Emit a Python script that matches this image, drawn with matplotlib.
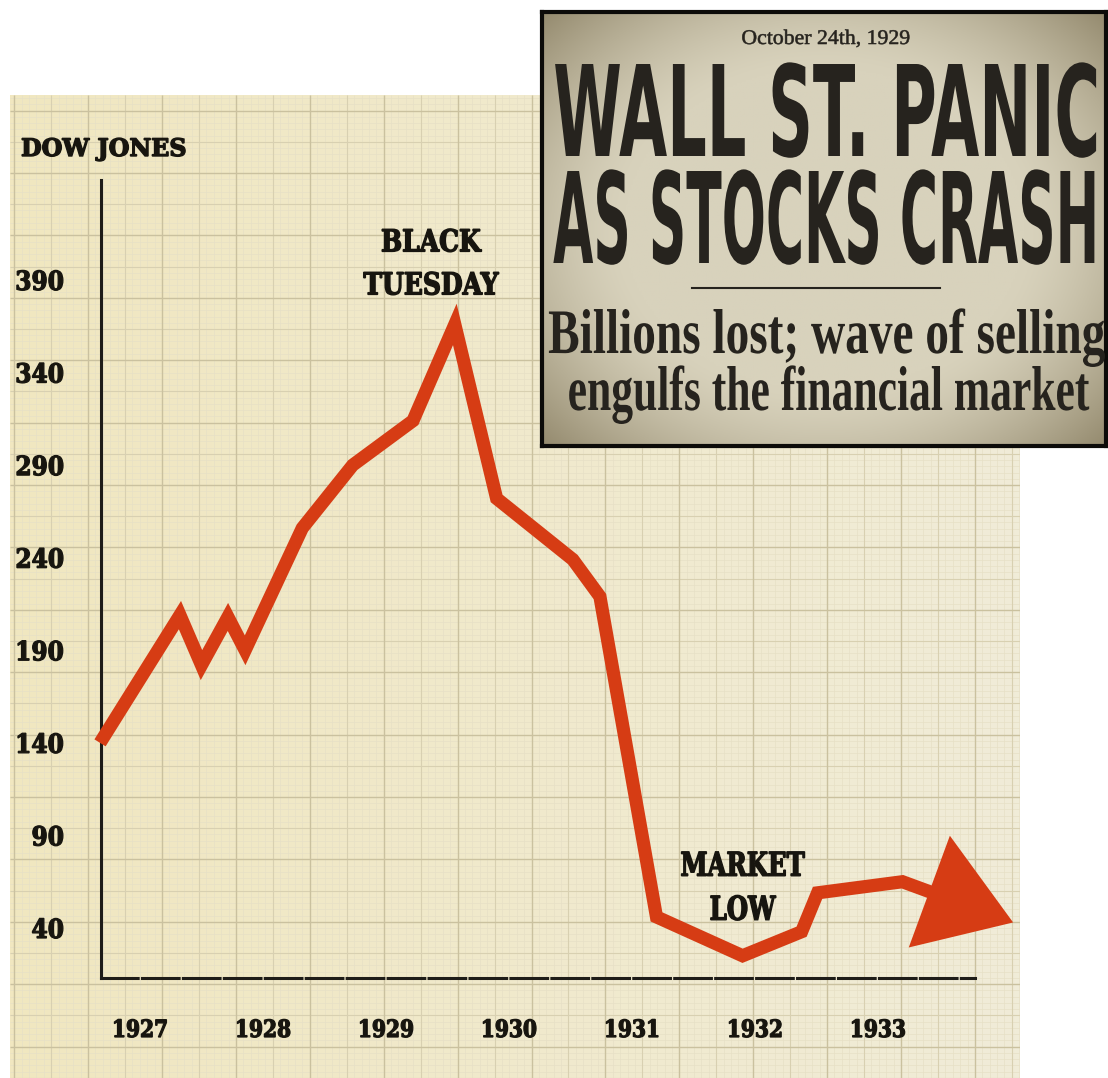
import numpy as np
import matplotlib
matplotlib.use("Agg")
import matplotlib.pyplot as plt
from matplotlib import patheffects
from matplotlib.font_manager import FontProperties
from matplotlib.patches import FancyArrowPatch, ArrowStyle
from matplotlib.path import Path
from matplotlib.textpath import TextPath
from matplotlib.transforms import Affine2D

W, H, DPI = 1108, 1078, 100

# Dow Jones trace (fractional year, index level)
dates = [1926.675, 1927.325, 1927.50, 1927.715, 1927.855, 1928.32, 1928.73,
         1929.22, 1929.56, 1929.90, 1930.52, 1930.74, 1931.20, 1931.90,
         1932.38, 1932.51, 1933.20]
dow = [140, 209, 182, 208, 190, 256, 290, 314, 366, 272, 239, 219,
       46, 25, 38, 59, 65]
arrow_date = 1934.10
arrow_dow = 43

y_ticks = [40, 90, 140, 190, 240, 290, 340, 390]
year_ticks = [1927, 1928, 1929, 1930, 1931, 1932, 1933]

RED = "#d63c14"
INK = "#17150f"
NEWS_INK = "#26231e"

SLAB = FontProperties(family=["DejaVu Serif Condensed", "DejaVu Serif"],
                      weight="bold", stretch="condensed")
NARROW = FontProperties(family=["Liberation Sans Narrow", "DejaVu Sans"],
                        weight="bold")
SERIF = FontProperties(family=["Liberation Serif", "DejaVu Serif"])
SERIF_B = FontProperties(family=["Liberation Serif", "DejaVu Serif"],
                         weight="bold")


class VStretch(patheffects.AbstractPathEffect):
    """Stretch text vertically about a pivot above the baseline (pixels),
    with an optional outline to make the glyphs heavier."""

    def __init__(self, sy, pivot=0.0, dy=0.0, bold=0.0):
        super().__init__()
        self.sy, self.pivot, self.dy, self.bold = sy, pivot, dy, bold

    def draw_path(self, renderer, gc, tpath, affine, rgbFace=None):
        x0, y0 = affine.transform((0, 0))
        yc = y0 + self.pivot
        stretch = (Affine2D().translate(0, -yc).scale(1, self.sy)
                   .translate(0, yc + self.dy))
        gc0 = renderer.new_gc()
        gc0.copy_properties(gc)
        if self.bold > 0 and rgbFace is not None:
            gc0.set_foreground(rgbFace)
            gc0.set_linewidth(self.bold)
            gc0.set_joinstyle("miter")
        renderer.draw_path(gc0, tpath, affine + stretch, rgbFace)
        gc0.restore()


def fit(s, prop, width_px, height_px, ref=None):
    # font size giving the wanted ink width, and stretch giving the ink height
    ink = TextPath((0, 0), s, size=10, prop=prop).get_extents()
    fs = 10 * width_px / (ink.width * DPI / 72)
    h = ink.height if ref is None else \
        TextPath((0, 0), ref, size=10, prop=prop).get_extents().height
    h0 = h * fs / 10 * DPI / 72
    return fs, height_px / h0, h0


fig = plt.figure(figsize=(W / DPI, H / DPI), dpi=DPI)
fig.patch.set_facecolor("white")

# ---- graph paper background (pixel coordinates) ----
bg = fig.add_axes([10 / W, 0, 1010 / W, (H - 95) / H], zorder=0)
bg.set_xlim(10, 1020)
bg.set_ylim(H, 95)
bg.axis("off")
t = np.linspace(0, 1, 200)
left_col = np.array([241, 231, 192]) / 255
right_col = np.array([240, 236, 216]) / 255
grad = left_col[None, :] * (1 - t[:, None]) + right_col[None, :] * t[:, None]
bg.imshow(np.repeat(grad[None, :, :], 2, axis=0), extent=(10, 1020, H, 95),
          aspect="auto", zorder=0)

gx = np.arange(14.2, 1020, 73.9)
gy = np.arange(110.6, H, 62.4)
bg.vlines(np.arange(14.2, 1020, 7.39), 95, H, color="#e7e0c6", lw=0.5, zorder=1)
bg.hlines(np.arange(48.2, H, 6.24), 10, 1020, color="#e7e0c6", lw=0.5, zorder=1)
bg.vlines(gx + 36.95, 95, H, color="#d8d0b1", lw=0.8, zorder=2)
bg.hlines(np.append(gy + 31.2, 79.4), 10, 1020, color="#d8d0b1", lw=0.8, zorder=2)
bg.vlines(gx, 95, H, color="#cac19f", lw=1.0, zorder=3)
bg.hlines(gy, 10, 1020, color="#cac19f", lw=1.0, zorder=3)

# ---- main chart ----
ax = fig.add_axes([101 / W, 1 - 978 / H, (975 - 101) / W, (978 - 180) / H],
                  zorder=1)
ax.set_facecolor("none")
ax.set_xlim(1926.683, 1933.79)
ax.set_ylim(13.0, 444.0)

for side in ("top", "right"):
    ax.spines[side].set_visible(False)
ax.spines["left"].set_linestyle((0, (9, 0.8)))
ax.spines["bottom"].set_linestyle((0, (12, 1.4)))
for side in ("left", "bottom"):
    ax.spines[side].set_linewidth(2.2)
    ax.spines[side].set_color("#1e1c18")

verts = np.column_stack([dates + [arrow_date], dow + [arrow_dow]])
codes = [Path.MOVETO] + [Path.LINETO] * (len(verts) - 1)
trace = FancyArrowPatch(
    path=Path(verts, codes),
    arrowstyle=ArrowStyle("-|>", head_length=51, head_width=34),
    mutation_scale=1, lw=9.5, color=RED, joinstyle="miter", capstyle="butt",
    transform=ax.transData, clip_on=False, zorder=3)
ax.add_patch(trace)

# tick labels
fs_y, sy_y, h_y = fit("390", SLAB, 46, 20)
ax.set_yticks(y_ticks, labels=[str(v) for v in y_ticks],
              fontproperties=SLAB, fontsize=fs_y, va="baseline", color=INK,
              path_effects=[VStretch(sy_y, pivot=h_y / 2, dy=-h_y / 2,
                                     bold=0.9)])
ax.tick_params(axis="y", length=0, pad=(101 - 64) * 72 / DPI)

fs_x, sy_x, h_x = fit("1927", SLAB, 52, 18)
ax.set_xticks(year_ticks, labels=[str(v) for v in year_ticks],
              fontproperties=SLAB, fontsize=fs_x, va="baseline", color=INK,
              path_effects=[VStretch(sy_x, pivot=h_x / 2, bold=0.9)])
ax.tick_params(axis="x", length=0, pad=(50 + h_x / 2) * 72 / DPI)

# annotations anchored to the peak and the low
ipk = int(np.argmax(dow))
ilo = int(np.argmin(dow))
fs_a, sy_a, _ = fit("TUESDAY", SLAB, 135, 23)
for s, dy in (("BLACK", 73), ("TUESDAY", 30)):
    ax.annotate(s, (dates[ipk], dow[ipk]), xytext=(-24, dy),
                textcoords="offset pixels", ha="center", va="baseline",
                fontproperties=SLAB, fontsize=fs_a, color=INK,
                path_effects=[VStretch(sy_a, bold=1.0)], annotation_clip=False)
fs_m, sy_m, _ = fit("MARKET", SLAB, 123, 24)
for s, dy in (("MARKET", 80), ("LOW", 36)):
    ax.annotate(s, (dates[ilo], dow[ilo]), xytext=(0, dy),
                textcoords="offset pixels", ha="center", va="baseline",
                fontproperties=SLAB, fontsize=fs_m, color=INK,
                path_effects=[VStretch(sy_m, bold=1.0)], annotation_clip=False)

fs_d, sy_d, _ = fit("DOW JONES", SLAB, 163, 23)
bg.text(21, 156, "DOW JONES", ha="left", va="baseline", fontproperties=SLAB,
        fontsize=fs_d, color=INK, path_effects=[VStretch(sy_d, bold=1.0)],
        zorder=5)

# ---- newspaper clipping ----
news = fig.add_axes([542 / W, 1 - 446 / H, 564 / W, 434 / H], zorder=4)
news.set_xlim(542, 1106)
news.set_ylim(446, 12)
news.set_xticks([])
news.set_yticks([])
for sp in news.spines.values():
    sp.set_linewidth(3.0)
    sp.set_color("#0c0b09")

u = np.linspace(-1, 1, 300)
uu, vv = np.meshgrid(u, np.linspace(-1, 1, 240))
r = np.sqrt((uu * 1.05) ** 2 + vv ** 2)
k = np.clip((r - 0.75) / 0.7, 0, 1) ** 1.4
center_col = np.array([216, 210, 188]) / 255
edge_col = np.array([148, 138, 110]) / 255
img = center_col * (1 - k[..., None]) + edge_col * k[..., None]
news.imshow(img, extent=(542, 1106, 446, 12), aspect="auto", zorder=0)

fs, sy, _ = fit("October 24th, 1929", SERIF, 167, 14, ref="O")
news.text(826, 44, "October 24th, 1929", ha="center", va="baseline",
          fontproperties=SERIF, fontsize=fs, color=NEWS_INK,
          path_effects=[VStretch(sy, bold=0.4)])

for s, base in (("WALL ST. PANIC", 156), ("AS STOCKS CRASH", 263)):
    fs, sy, _ = fit(s, NARROW, 541, 92, ref="H")
    news.text(826.5, base, s, ha="center", va="baseline",
              fontproperties=NARROW, fontsize=fs, color=NEWS_INK,
              path_effects=[VStretch(sy)])

news.plot([692, 940], [288, 288], color=NEWS_INK, lw=1.5, zorder=2)

for s, cx, base, width in (("Billions lost; wave of selling", 826, 353, 556),
                           ("engulfs the financial market", 829, 410, 520)):
    fs, sy, _ = fit(s, SERIF_B, width, 44, ref="l")
    news.text(cx, base, s, ha="center", va="baseline",
              fontproperties=SERIF_B, fontsize=fs, color=NEWS_INK,
              path_effects=[VStretch(sy)])

fig.savefig("out.png", dpi=DPI)
